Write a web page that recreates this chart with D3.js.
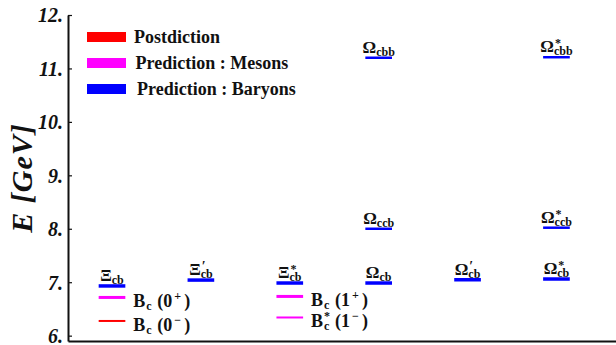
<!DOCTYPE html>
<html>
<head>
<meta charset="utf-8">
<script src="https://cdn.jsdelivr.net/npm/d3@7"></script>
<style>
  body { margin: 0; background: #fff; }
  svg { display: block; }
  svg text { font-family: "Liberation Serif", "Times New Roman", Tinos, "DejaVu Serif", serif; font-weight: bold; }
</style>
</head>
<body>
<svg id="chart" width="616" height="345"></svg>
<script>
// baryon levels (GeV)
const baryonBase = ["Ξ", "Ξ", "Ξ", "Ω", "Ω", "Ω", "Ω", "Ω", "Ω", "Ω"];
const baryonSup = ["", "′", "*", "", "′", "*", "", "*", "", "*"];
const baryonSub = ["cb", "cb", "cb", "cb", "cb", "cb", "ccb", "ccb", "cbb", "cbb"];
const baryonColumn = [0, 1, 2, 3, 4, 5, 3, 5, 3, 5];
const baryonMass = [6.93, 7.04, 6.985, 6.985, 7.046, 7.06, 8.00, 8.02, 11.20, 11.21];

// meson levels (GeV)
const mesonSup = ["", "", "", "*"];
const mesonJP = ["0", "0", "1", "1"];
const mesonParity = ["+", "−", "+", "−"];
const mesonColumn = [0, 0, 2, 2];
const mesonMass = [6.715, 6.275, 6.734, 6.34];
const mesonKind = ["meson", "post", "meson", "meson"];

const yTicks = [6, 7, 8, 9, 10, 11, 12];
const legendLabels = ["Postdiction", "Prediction : Mesons", "Prediction : Baryons"];
const legendKeys = ["post", "meson", "baryon"];

const color = d3.scaleOrdinal()
  .domain(["post", "meson", "baryon"])
  .range(["#ff0000", "#ff00ff", "#0000ff"]);

const svg = d3.select("#chart");
const width = 616, height = 345;
const margin = {top: 15, right: 0, bottom: 4, left: 68};
const serif = "'Liberation Serif', 'Times New Roman', Tinos, 'DejaVu Serif', serif";

const x = d3.scaleLinear()
  .domain([-0.495, 5.67])
  .range([margin.left, width - margin.right]);
const y = d3.scaleLinear()
  .domain([5.9, 12])
  .range([height - margin.bottom, margin.top]);
const halfW = 0.15;

// axes
const yAxis = svg.append("g")
  .attr("transform", `translate(${margin.left},0)`)
  .call(d3.axisLeft(y).tickValues(yTicks).tickFormat(d => d + ".")
    .tickSizeInner(-4).tickSizeOuter(0).tickPadding(5));
yAxis.attr("font-family", serif);
yAxis.select(".domain").attr("stroke", "#111").attr("stroke-width", 2);
yAxis.selectAll(".tick line").attr("stroke", "#111").attr("stroke-width", 1.2);
yAxis.selectAll(".tick text")
  .attr("fill", "#111")
  .attr("dy", "0.34em")
  .attr("font-size", 20)
  .attr("font-style", "italic");

const xAxis = svg.append("g")
  .attr("transform", `translate(0,${y.range()[0]})`)
  .call(d3.axisBottom(x).tickValues([]).tickSizeOuter(0));
xAxis.select(".domain").attr("stroke", "#111").attr("stroke-width", 2);

svg.append("text")
  .attr("transform", `translate(32,${(y.range()[0] + y.range()[1]) / 2}) rotate(-90)`)
  .attr("text-anchor", "middle")
  .attr("font-size", 30)
  .attr("font-style", "italic")
  .attr("letter-spacing", 1)
  .attr("fill", "#111")
  .text("E [GeV]");

// legend
const legend = svg.append("g")
  .selectAll("g")
  .data(legendLabels)
  .join("g")
  .attr("transform", (d, i) => `translate(87,${32 + i * 26})`);
legend.append("rect")
  .attr("width", 39).attr("height", 10)
  .attr("fill", (d, i) => color(legendKeys[i]));
legend.append("text")
  .attr("x", (d, i) => 47 + i * 1.5)
  .attr("y", 11)
  .attr("font-size", 18)
  .attr("fill", "#111")
  .text(d => d);

// meson lines
const mesonIdx = d3.range(mesonMass.length);
svg.append("g")
  .selectAll("line")
  .data(mesonIdx)
  .join("line")
  .attr("x1", i => x(mesonColumn[i] - halfW))
  .attr("x2", i => x(mesonColumn[i] + halfW))
  .attr("y1", i => y(mesonMass[i]))
  .attr("y2", i => y(mesonMass[i]))
  .attr("stroke", i => color(mesonKind[i]))
  .attr("stroke-width", i => mesonParity[i] === "+" ? 3 : 2);

const mesonText = svg.append("g")
  .selectAll("text")
  .data(mesonIdx)
  .join("text")
  .attr("transform", i => `translate(${x(mesonColumn[i] + halfW) + 8},${y(mesonMass[i]) + 10})`)
  .attr("fill", "#111")
  .attr("font-size", 18);
mesonText.append("tspan").attr("x", 0).attr("y", 0).text("B");
mesonText.append("tspan").attr("x", 13).attr("y", 3).attr("font-size", 12).text("c");
mesonText.append("tspan").attr("x", 13).attr("y", -7).attr("font-size", 12).text(i => mesonSup[i]);
mesonText.append("tspan").attr("x", 24).attr("y", 0).text(i => "(" + mesonJP[i]);
mesonText.append("tspan").attr("x", 41).attr("y", -7).attr("font-size", 12).text(i => mesonParity[i]);
mesonText.append("tspan").attr("x", 51).attr("y", 0).text(")");

// baryon bars
const baryonIdx = d3.range(baryonMass.length);
svg.append("g")
  .selectAll("line")
  .data(baryonIdx)
  .join("line")
  .attr("x1", i => x(baryonColumn[i] - halfW))
  .attr("x2", i => x(baryonColumn[i] + halfW))
  .attr("y1", i => y(baryonMass[i]))
  .attr("y2", i => y(baryonMass[i]))
  .attr("stroke", color("baryon"))
  .attr("stroke-width", i => baryonSub[i] === "cb" ? 3.5 : 2.5);

const baryonText = svg.append("g")
  .selectAll("text")
  .data(baryonIdx)
  .join("text")
  .attr("fill", "#111")
  .attr("font-size", 17);
baryonText.each(function(i) {
  const t = d3.select(this);
  const main = t.append("tspan").attr("x", 0).attr("y", 0).text(baryonBase[i]);
  const w = main.node().getComputedTextLength();
  const sub = t.append("tspan").attr("x", w).attr("y", 3).attr("font-size", 12).text(baryonSub[i]);
  t.append("tspan").attr("x", w + 1).attr("y", baryonSup[i] === "*" ? -5 : -4)
    .attr("font-size", baryonSup[i] === "*" ? 12 : 14).text(baryonSup[i]);
  const total = w + sub.node().getComputedTextLength();
  t.attr("transform", `translate(${x(baryonColumn[i]) - total / 2},${y(baryonMass[i]) - 5})`);
});
</script>
</body>
</html>
